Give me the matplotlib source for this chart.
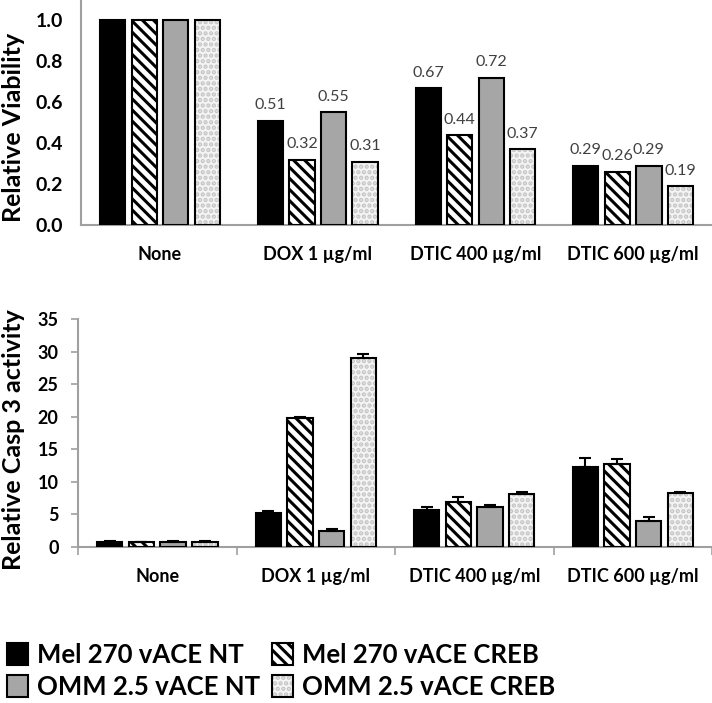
import matplotlib
matplotlib.use('Agg')
import matplotlib.pyplot as plt
import numpy as np
from matplotlib.legend_handler import HandlerTuple

plt.rcParams['font.family'] = ['Lato', 'DejaVu Sans']
plt.rcParams['hatch.linewidth'] = 2.2

# data
categories = ['None', 'DOX 1 \u00b5g/ml', 'DTIC 400 \u00b5g/ml', 'DTIC 600 \u00b5g/ml']
series = ['Mel 270 vACE NT', 'Mel 270 vACE CREB', 'OMM 2.5 vACE NT', 'OMM 2.5 vACE CREB']

viability = [
    [1.00, 0.51, 0.67, 0.29],
    [1.00, 0.32, 0.44, 0.26],
    [1.00, 0.55, 0.72, 0.29],
    [1.00, 0.31, 0.37, 0.19],
]
casp3 = [
    [0.8, 5.2, 5.6, 12.3],
    [0.7, 19.8, 6.9, 12.7],
    [0.8, 2.5, 6.1, 4.0],
    [0.8, 29.1, 8.1, 8.25],
]
casp3_err = [
    [0.05, 0.3, 0.6, 1.3],
    [0.05, 0.2, 0.8, 0.8],
    [0.05, 0.3, 0.4, 0.55],
    [0.05, 0.55, 0.35, 0.2],
]

spine_col = '#a0a0a0'
styles = [
    dict(color='black', hatch=None, hatchcol=None),
    dict(color='white', hatch='\\\\\\', hatchcol='black'),
    dict(color='#a6a6a6', hatch=None, hatchcol=None),
    dict(color='#f4f4f4', hatch='...', hatchcol='#c4c4c4'),
]

x = np.arange(len(categories))
width = 0.16
step = 0.2


def draw_bars(ax, values, errs=None):
    handles = []
    for j in range(4):
        pos = x + (j - 1.5) * step
        st = styles[j]
        if st['hatch'] is not None:
            # hatch layer (its colour comes from edgecolor), then black outline
            h1 = ax.bar(pos, values[j], width, color=st['color'], hatch=st['hatch'],
                        edgecolor=st['hatchcol'], linewidth=0, zorder=2)
            h2 = ax.bar(pos, values[j], width, fill=False, edgecolor='black',
                        linewidth=1.5, zorder=3)
            handles.append((h1[0], h2[0]))
        else:
            h = ax.bar(pos, values[j], width, color=st['color'], edgecolor='black',
                       linewidth=1.5, zorder=3)
            handles.append(h[0])
        if errs is not None:
            ax.errorbar(pos, values[j], yerr=[np.zeros(4), errs[j]], fmt='none',
                        ecolor='black', elinewidth=1.5, capsize=4, capthick=1.5, zorder=4)
    return handles


fig = plt.figure(figsize=(7.12, 7.03), dpi=100)

# top panel
ax1 = fig.add_axes([0.114, 0.68, 0.886, 0.32])
handles = draw_bars(ax1, viability)
for j in range(4):
    pos = x + (j - 1.5) * step
    for i in range(1, 4):
        ax1.annotate('%.2f' % viability[j][i], (pos[i], viability[j][i]),
                     xytext=(0, 6), textcoords='offset points', ha='center', va='bottom',
                     fontsize=11.5, color='#404040')
ax1.set_ylim(0, 1.1)
ax1.set_yticks(np.arange(0, 1.01, 0.2))
ax1.set_yticklabels(['%.1f' % v for v in np.arange(0, 1.01, 0.2)], fontsize=14, fontweight='bold')
ax1.set_ylabel('Relative Viability', fontsize=18, fontweight='bold')
ax1.yaxis.set_label_coords(-0.089, 0.435)
ax1.set_xlim(-0.5, 3.5)
ax1.set_xticks(x)
ax1.set_xticklabels(categories, fontsize=13, fontweight='bold')
ax1.tick_params(axis='both', length=0)
ax1.tick_params(axis='x', pad=15)
ax1.tick_params(axis='y', pad=13)

# bottom panel
ax2 = fig.add_axes([0.1096, 0.222, 0.8904, 0.324])
draw_bars(ax2, casp3, casp3_err)
ax2.set_ylim(0, 35)
ax2.set_yticks(np.arange(0, 36, 5))
ax2.set_yticklabels([str(v) for v in range(0, 36, 5)], fontsize=13, fontweight='bold')
ax2.set_ylabel('Relative Casp 3 activity', fontsize=18, fontweight='bold')
ax2.yaxis.set_label_coords(-0.084, 0.47)
ax2.set_xlim(-0.5, 3.5)
ax2.set_xticks(x)
ax2.set_xticklabels(categories, fontsize=13, fontweight='bold')
ax2.set_xticks(np.arange(-0.5, 3.6, 1), minor=True)
ax2.tick_params(axis='x', which='major', length=0, pad=15)
ax2.tick_params(axis='x', which='minor', length=6, color=spine_col, width=1.2)
ax2.tick_params(axis='y', length=5, color=spine_col, width=1.2, pad=9)

for ax in (ax1, ax2):
    for s in ('top', 'right'):
        ax.spines[s].set_visible(False)
    for s in ('left', 'bottom'):
        ax.spines[s].set_color(spine_col)
        ax.spines[s].set_linewidth(1.5)
    ax.set_facecolor('none')

# legend
order = [0, 2, 1, 3]
leg = fig.legend([handles[k] for k in order], [series[k] for k in order],
                 loc='upper left', bbox_to_anchor=(7 / 712, 1 - 643 / 703), ncol=2, frameon=False,
                 fontsize=18.5, handlelength=0.8, handleheight=0.9, handletextpad=0.38,
                 columnspacing=0.45, labelspacing=0.3, borderpad=0, borderaxespad=0,
                 handler_map={tuple: HandlerTuple(ndivide=1, pad=0)})
for t in leg.get_texts():
    t.set_fontweight('bold')

fig.savefig('out.png', dpi=100)
